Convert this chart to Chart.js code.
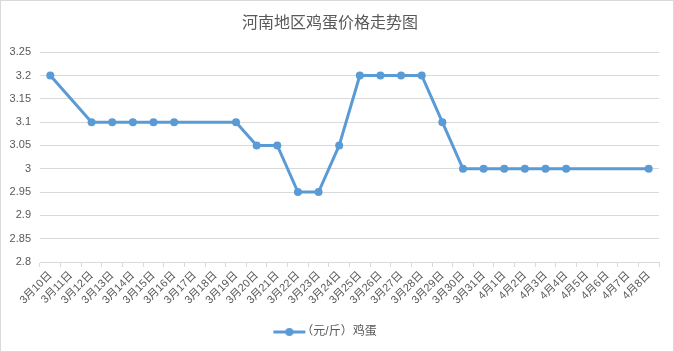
<!DOCTYPE html>
<html>
<head>
<meta charset="utf-8">
<script src="https://cdn.jsdelivr.net/npm/chart.js@4"></script>
<style>
  body { margin: 0; background: #fff; }
  #box { width: 674px; height: 352px; box-sizing: border-box; border: 1px solid #d9d9d9; }
</style>
</head>
<body>
<div id="box"><canvas id="myChart" width="672" height="350"></canvas></div>
<script>
// 数据
const dates = ['3月10日', '3月11日', '3月12日', '3月13日', '3月14日', '3月15日', '3月16日', '3月17日',
    '3月18日', '3月19日', '3月20日', '3月21日', '3月22日', '3月23日', '3月24日', '3月25日', '3月26日',
    '3月27日', '3月28日', '3月29日', '3月30日', '3月31日', '4月1日', '4月2日', '4月3日', '4月4日',
    '4月5日', '4月6日', '4月7日', '4月8日'];
const eggPrice = [3.2, null, 3.1, 3.1, 3.1, 3.1, 3.1, null,
    null, 3.1, 3.05, 3.05, 2.95, 2.95, 3.05, 3.2, 3.2,
    3.2, 3.2, 3.1, 3.0, 3.0, 3.0, 3.0, 3.0, 3.0,
    null, null, null, 3.0];
const yTicks = [2.8, 2.85, 2.9, 2.95, 3, 3.05, 3.1, 3.15, 3.2, 3.25];

const blue = '#5b9bd5';
const grey = '#595959';
const gridGrey = '#d9d9d9';
const font = "'Liberation Sans', 'Noto Sans CJK SC', sans-serif";

// 图例里的线+点
const legendIcon = document.createElement('canvas');
legendIcon.width = 36;
legendIcon.height = 12;
const ic = legendIcon.getContext('2d');
ic.strokeStyle = blue;
ic.lineWidth = 3;
ic.beginPath();
ic.moveTo(2, 6);
ic.lineTo(34, 6);
ic.stroke();
ic.fillStyle = blue;
ic.beginPath();
ic.arc(18, 6, 4, 0, Math.PI * 2);
ic.fill();

const ctx = document.getElementById('myChart');
new Chart(ctx, {
    type: 'line',
    data: {
        labels: dates,
        datasets: [{
            label: '（元/斤）鸡蛋',
            data: eggPrice,
            borderColor: blue,
            backgroundColor: blue,
            borderWidth: 3,
            pointRadius: 4,
            pointHoverRadius: 4,
            pointBorderWidth: 0,
            spanGaps: true,
            tension: 0
        }]
    },
    options: {
        responsive: false,
        animation: false,
        layout: { padding: { left: 0, right: 14, top: 0, bottom: 3 } },
        plugins: {
            title: {
                display: true,
                text: '河南地区鸡蛋价格走势图',
                color: grey,
                font: { family: font, size: 16, weight: 'normal' },
                padding: { top: 13, bottom: 19 }
            },
            legend: {
                position: 'bottom',
                labels: {
                    color: grey,
                    font: { family: font, size: 12 },
                    usePointStyle: true,
                    padding: 10,
                    generateLabels: function(chart) {
                        const items = Chart.defaults.plugins.legend.labels.generateLabels(chart);
                        items.forEach(function(it) { it.pointStyle = legendIcon; });
                        return items;
                    }
                }
            },
            tooltip: { enabled: false }
        },
        scales: {
            x: {
                offset: true,
                grid: { offset: true, drawOnChartArea: false, color: gridGrey, tickLength: 5 },
                border: { color: gridGrey },
                ticks: {
                    color: grey,
                    font: { family: font, size: 11 },
                    maxRotation: 45,
                    minRotation: 45,
                    autoSkip: false,
                    padding: 2
                },
                afterFit: function(scale) { scale.height = 54; }
            },
            y: {
                min: 2.8,
                max: 3.25,
                grid: { color: gridGrey, drawTicks: false },
                border: { display: false },
                afterBuildTicks: function(scale) {
                    scale.ticks = yTicks.map(function(v) { return { value: v }; });
                },
                ticks: {
                    color: grey,
                    font: { family: font, size: 11 },
                    padding: 9,
                    callback: function(v) { return String(Number(v.toFixed(2))); }
                },
                afterFit: function(scale) { scale.width = 39; }
            }
        }
    }
});
</script>
</body>
</html>
